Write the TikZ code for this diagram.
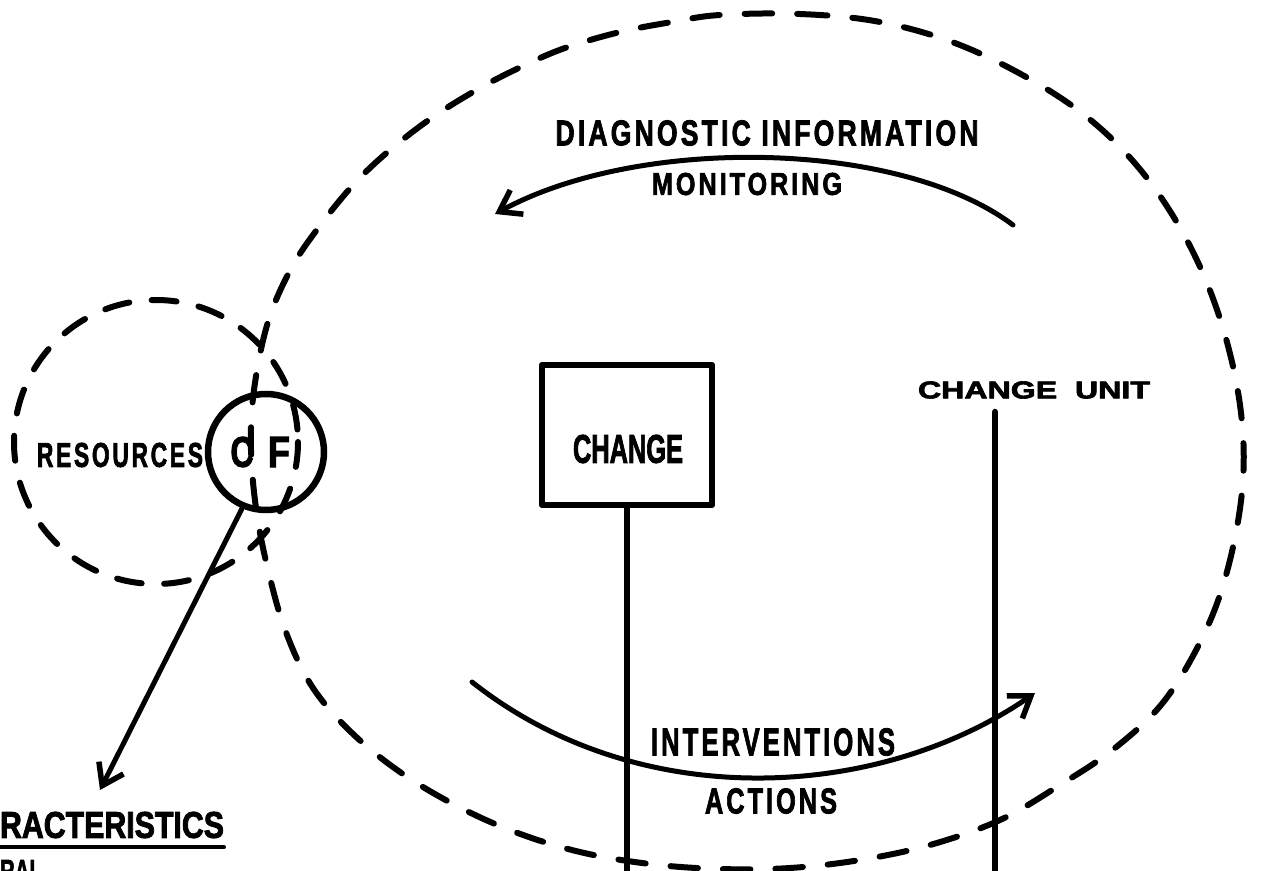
\documentclass[tikz,border=0pt]{standalone}
\usepackage{fontspec}
\setmainfont{Liberation Sans}
% heavy stencil-like lettering, plain and letter-spaced
\newfontfamily\heavy[BoldFeatures={FakeBold=2.5}]{Liberation Sans}
\newfontfamily\heavysp[LetterSpace=12,BoldFeatures={FakeBold=2.5}]{Liberation Sans}
\usepackage{graphicx}
\usetikzlibrary{arrows.meta}
% one drawing unit = 0.02cm
\newlength\pxu
\setlength\pxu{0.02cm}
% lettering scaled to a given width and cap height (in drawing units)
\newcommand\letr[3]{\resizebox{#1\pxu}{#2\pxu}{\heavy\bfseries #3}}
\newcommand\letrsp[3]{\resizebox{#1\pxu}{#2\pxu}{\heavysp\bfseries #3}}

\begin{document}
\begin{tikzpicture}[x=0.02cm,y=-0.02cm,
  ink/.style={draw=black, line width=0.1cm, line cap=round, line join=round},
  dashline/.style={ink, line width=0.12cm, dash pattern=on 0.55cm off 0.5cm},
  lbl/.style={inner sep=0pt, outer sep=0pt},
  flow/.style={ink, line width=0.1cm,
    -{Straight Barb[length=0.4cm,width=0.55cm,line width=0.11cm]}}]

\useasboundingbox (0,0) rectangle (1275,871);
\clip (0,0) rectangle (1275,871);

% change unit boundary
\draw[dashline] plot[smooth cycle, tension=0.6] coordinates {
  (720,15) (800,14) (880,22) (960,45) (1040,85) (1100,128) (1150,182)
  (1192,250) (1222,325) (1240,405) (1243,480) (1230,560) (1206,630)
  (1165,700) (1115,748) (1060,785) (1000,820) (930,845) (860,860)
  (790,868) (720,869) (650,864) (580,852) (515,832) (455,805) (400,772)
  (352,733) (313,688) (287,635) (270,578) (257,515) (251,450) (254,390)
  (268,322) (292,267) (322,223) (355,183) (390,150) (433,117) (480,88)
  (523,66) (565,48) (620,32) (672,22)};

% resources boundary
\draw[dashline, dash pattern=on 0.5cm off 0.45cm] (156,442) circle[radius=142];

% labels
\node[lbl] (diag) at (767,133) {\letrsp{423}{25}{DIAGNOSTIC INFORMATION}};
\node[lbl] (mon) at (747,184) {\letrsp{190}{22}{MONITORING}};
\node[lbl] (unit) at (1034,390) {\letr{232}{17}{CHANGE\ \ UNIT}};
\node[lbl] (interv) at (773,742) {\letrsp{244}{27}{INTERVENTIONS}};
\node[lbl] (act) at (771,801) {\letrsp{132}{25}{ACTIONS}};
\node[lbl] (res) at (120,455) {\letrsp{166}{24}{RESOURCES}};
\node[lbl] (char) at (112,825) {\letr{224}{26}{RACTERISTICS}};
\node[lbl, anchor=north west] (gen) at (0,860) {\letr{42}{22}{RAL}};
\path (char.south west) ++(0,9) coordinate (ulA)
      (char.south east) ++(0,9) coordinate (ulB);
\draw[ink, line width=0.08cm] (ulA) -- (ulB);

% change box
\node[ink, line width=0.13cm, minimum width=170\pxu, minimum height=140\pxu,
  inner sep=0pt] (chg) at (627,435) {};
\node[lbl] (chgtxt) at (628,449) {\letr{110}{28}{CHANGE}};

% C F circle
\node[ink, line width=0.13cm, circle, minimum size=116\pxu, inner sep=0pt]
  (cf) at (266,452) {};
\node[lbl] (cC) at (242,452) {\letr{23}{30}{C}};
\node[lbl] (cF) at (279,452) {\letr{22}{30}{F}};

% vertical lines
\coordinate (chgEnd) at (627,880);
\coordinate (unitTop) at (995,412);
\coordinate (unitEnd) at (995,880);
\draw[ink, line width=0.13cm] (chg.south) -- (chgEnd);
\draw[ink, line width=0.13cm] (unitTop) -- (unitEnd);

% monitoring arrow
\coordinate (monStart) at (1013,225);
\coordinate (monTip) at (495,214);
\draw[flow] (monStart) .. controls (900,140) and (640,135) .. (monTip);

% intervention arrow
\coordinate (intStart) at (472,682);
\coordinate (intTip) at (1035,693);
\draw[flow] (intStart) .. controls (640,815) and (880,800) .. (intTip);

% characteristics arrow
\coordinate (charTip) at (100,790);
\draw[flow] (cf.-113) -- (charTip);

\end{tikzpicture}
\end{document}
